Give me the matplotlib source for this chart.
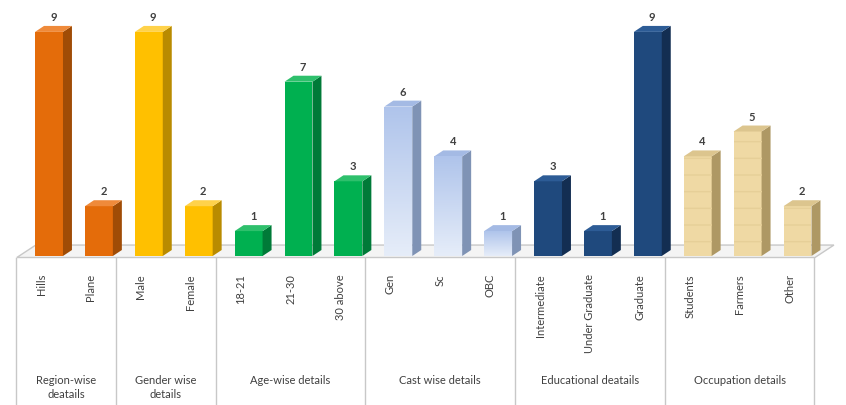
import numpy as np
import matplotlib
matplotlib.use("Agg")
import matplotlib.pyplot as plt
from matplotlib.patches import Polygon

plt.rcParams['font.family'] = ['Lato', 'DejaVu Sans']

# survey counts per category
labels = ["Hills", "Plane", "Male", "Female", "18-21", "21-30", "30 above",
          "Gen", "Sc", "OBC", "Intermediate", "Under Graduate", "Graduate",
          "Students", "Farmers", "Other"]
values = [9, 2, 9, 2, 1, 7, 3, 6, 4, 1, 3, 1, 9, 4, 5, 2]

groups = ["Region-wise\ndeatails", "Gender wise\ndetails", "Age-wise details",
          "Cast wise details", "Educational deatails", "Occupation details"]
group_sizes = [2, 2, 3, 3, 3, 3]

# front / side / top colour for each group
front_cols = ["#E46C0A", "#FFC000", "#00B050", "#B9CCEE", "#1F497D", "#EFD9A4"]
side_cols = ["#A04C06", "#B98B00", "#007A38", "#7F93B5", "#132E52", "#AE9864"]
top_cols = ["#EF8A3A", "#FFD24A", "#2EC06C", "#A4BAE4", "#2D5C96", "#DCC58E"]

W, H = 846, 405
fig = plt.figure(figsize=(W / 100, H / 100), dpi=100)
ax = fig.add_axes([0, 0, 1, 1])

# pixel layout -> data units
x0_px, pitch_px = 49.0, 49.9
base_px, unit_px = 256.0, 24.9
xlim = (-x0_px / pitch_px, (W - x0_px) / pitch_px)
ylim = (-(H - base_px) / unit_px, base_px / unit_px)

def px_y(py):
    return (base_px - py) / unit_px

bw = 0.56          # front face width
dx, dy = 0.18, 0.24  # depth offset

# floor plate
fl_left, fl_right = -0.645, 15.35
fl_front = px_y(257.5)
fdx, fdy = 0.38, 0.5
floor = Polygon([(fl_left, fl_front), (fl_right, fl_front),
                 (fl_right + fdx, fl_front + fdy), (fl_left + fdx, fl_front + fdy)],
                closed=True, facecolor="#F4F4F4", edgecolor="#C8C8C8", lw=1.0, zorder=1)
ax.add_patch(floor)

grp_idx = np.repeat(np.arange(len(group_sizes)), group_sizes)
xs = np.arange(len(values))

bars = ax.bar(xs, values, width=bw, bottom=0,
              color=[front_cols[g] for g in grp_idx], lw=0, zorder=3)

for x, v, g, b in zip(xs, values, grp_idx, bars):
    xl, xr = x - bw / 2, x + bw / 2
    side = Polygon([(xr, 0), (xr + dx, dy), (xr + dx, v + dy), (xr, v)],
                   closed=True, facecolor=side_cols[g], lw=0, zorder=3)
    top = Polygon([(xl, v), (xr, v), (xr + dx, v + dy), (xl + dx, v + dy)],
                  closed=True, facecolor=top_cols[g], lw=0, zorder=3)
    ax.add_patch(side)
    ax.add_patch(top)
    if g == 3:
        # pale blue columns fade toward the floor
        grad = np.linspace(0, 1, 100).reshape(-1, 1)
        cmap = matplotlib.colors.LinearSegmentedColormap.from_list(
            "cast", ["#E6EDF9", "#AFC4EB"])
        im = ax.imshow(grad, extent=(xl, xr, 0, v), origin="lower", cmap=cmap,
                       aspect="auto", zorder=3.5)
        im.set_clip_path(b)
    if g == 5:
        # faint woven texture on the occupation columns
        ax.bar(x, v, width=bw, color="none", edgecolor="#E6CF98", hatch="-",
               lw=0, zorder=3.6)
    ax.text(x + dx / 2, v + dy + 0.12, str(v), ha="center", va="bottom",
            fontsize=8, fontweight="bold", color="#404040", zorder=5)

# category table under the floor
shift = -0.16
bounds = np.concatenate([[0], np.cumsum(group_sizes)]) - 0.5 + shift
for b in bounds:
    ax.plot([b, b], [fl_front, ylim[0]], color="#C8C8C8", lw=1.0, zorder=2)

for x, lab in zip(xs, labels):
    ax.text(x + shift, px_y(274), lab, rotation=90, ha="center", va="top",
            fontsize=8, color="#404040")

starts = bounds[:-1]
ends = bounds[1:]
for s, e, name in zip(starts, ends, groups):
    ax.text((s + e) / 2, px_y(375), name, ha="center", va="top",
            fontsize=8, color="#404040", linespacing=1.3)

ax.set_xlim(*xlim)
ax.set_ylim(*ylim)
ax.axis("off")

fig.savefig("out.png", dpi=100, facecolor="white")
